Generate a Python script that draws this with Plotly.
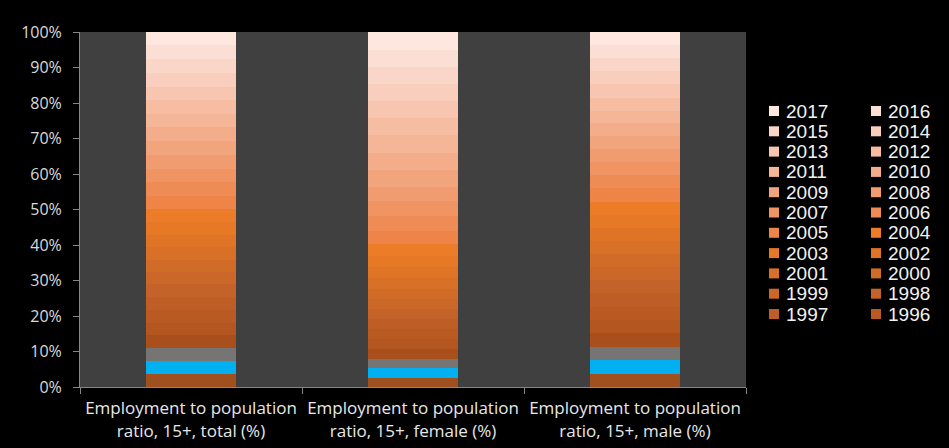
import plotly.graph_objects as go

categories = [
    "Employment to population<br>ratio, 15+, total (%)",
    "Employment to population<br>ratio, 15+, female (%)",
    "Employment to population<br>ratio, 15+, male (%)",
]
years = list(range(1991, 2018))

total = [49.5, 50.2, 51.0, 49.6, 49.4, 49.3, 49.2, 49.0, 48.3, 48.0, 48.2, 48.4, 49.1,
         51.0, 51.6, 52.0, 52.3, 53.5, 53.0, 53.1, 53.2, 53.0, 52.4, 53.8, 53.3, 53.7, 50.5]
female = [11.0, 11.2, 11.6, 11.8, 11.5, 11.9, 12.0, 12.4, 12.3, 12.3, 12.9, 12.9, 13.0,
          15.0, 15.5, 17.6, 17.5, 17.6, 20.2, 20.6, 20.6, 20.5, 20.7, 20.7, 20.4, 20.7, 21.0]
male = [74.5, 74.8, 75.2, 74.6, 74.4, 74.3, 74.2, 74.0, 73.8, 71.5, 71.8, 73.4, 74.0,
        74.6, 74.8, 73.2, 74.0, 72.8, 71.0, 70.8, 71.2, 72.5, 73.8, 74.2, 73.9, 73.5, 70.6]

colors = ["#A0501F", "#00B0F0", "#777574", "#A94F1C", "#B4561F", "#B95A22", "#BE5E26",
          "#C46329", "#CA6729", "#D16C28", "#D87027", "#DF7426", "#E67826", "#EC7C28",
          "#EE8448", "#EF8C56", "#F09463", "#F19C70", "#F2A47D", "#F4AD8B", "#F5B597",
          "#F6BDA3", "#F8C6B0", "#F9CEBC", "#FAD6C8", "#FCDFD4", "#FDE7DF"]

y_ticks = list(range(0, 101, 10))
y_tick_labels = [f"{v}%" for v in y_ticks]

legend_years = list(range(2017, 1995, -1))

W, H = 949, 448
L, R, T, B = 80, 746, 32, 387

fig = go.Figure()
for i, yr in enumerate(years):
    fig.add_bar(
        x=categories,
        y=[total[i], female[i], male[i]],
        name=str(yr),
        marker=dict(color=colors[i], line=dict(width=0)),
        showlegend=False,
    )


def px2x(px):
    return (px - L) / (R - L)


def py2y(py):
    return (B - py) / (B - T)


shapes = []
annotations = []
for k, yr in enumerate(legend_years):
    row, col = k // 2, k % 2
    cx = 769 + col * 102
    cy = 111 + row * 20.3
    c = colors[years.index(yr)]
    shapes.append(dict(type="rect", xref="paper", yref="paper",
                       x0=px2x(cx), x1=px2x(cx + 10), y0=py2y(cy + 5), y1=py2y(cy - 5),
                       fillcolor=c, line=dict(width=0)))
    annotations.append(dict(xref="paper", yref="paper", x=px2x(cx + 15), y=py2y(cy),
                            xanchor="left", yanchor="middle", text=str(yr), showarrow=False,
                            font=dict(family="Liberation Sans", size=19, color="#F2F2F2")))

fig.update_layout(
    width=W, height=H,
    margin=dict(l=L, r=W - R, t=T, b=H - B, pad=0, autoexpand=False),
    paper_bgcolor="#000000",
    plot_bgcolor="#404040",
    barmode="stack",
    barnorm="percent",
    bargap=0.595,
    showlegend=False,
    shapes=shapes,
    annotations=annotations,
)
fig.update_yaxes(
    range=[0, 100], tickmode="array", tickvals=y_ticks, ticktext=y_tick_labels,
    showgrid=False, zeroline=False, automargin=False,
    showline=True, linecolor="#868686", linewidth=1,
    ticks="outside", ticklen=6, tickcolor="#868686", ticklabelstandoff=8,
    tickfont=dict(family="Open Sans", size=16, color="#D9D9D9"),
)
fig.update_xaxes(
    showgrid=False, showline=True, linecolor="#868686", linewidth=1, automargin=False,
    ticks="outside", ticklen=6, tickcolor="#868686", tickson="boundaries",
    ticklabelstandoff=6,
    tickfont=dict(family="Open Sans", size=17, color="#E8E8E8"),
)

fig.write_html("out.html")
